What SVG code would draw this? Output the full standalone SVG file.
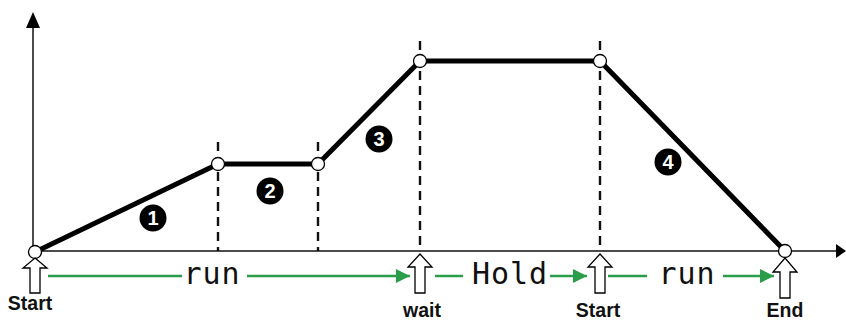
<svg xmlns="http://www.w3.org/2000/svg" width="846" height="320" viewBox="0 0 846 320">
<style>
.axis{stroke:#111;stroke-width:1.5;fill:none}
.dash{stroke:#111;stroke-width:2.4;stroke-dasharray:9 6;fill:none}
.seg{stroke:#000;stroke-width:5;fill:none;stroke-linecap:round}
.pt{fill:#fff;stroke:#000;stroke-width:1.3}
.badge{fill:#000}
.bnum{fill:#fff;font-family:"Liberation Sans",Arial,sans-serif;font-weight:bold;font-size:20px;text-anchor:middle}
.green{stroke:#2a9d4a;stroke-width:2.5;fill:none}
.hollow{fill:#fff;stroke:#000;stroke-width:1.3}
.lbl{font-family:"Liberation Sans",Arial,sans-serif;font-weight:bold;font-size:19.5px;text-anchor:middle;fill:#111}
.mono{font-family:"DejaVu Sans Mono","Liberation Mono",monospace;font-size:30px;text-anchor:middle;fill:#111;letter-spacing:1px}
</style>
<defs>
<marker id="ga" markerUnits="userSpaceOnUse" markerWidth="14" markerHeight="14" viewBox="0 0 14 14" refX="14" refY="7" orient="auto">
<path d="M0,0 L14,7 L0,14 Z" fill="#2a9d4a"/>
</marker>
</defs>
<g id="axes">
<line class="axis" x1="33" y1="251" x2="33" y2="26"/>
<path d="M33,12 L40,28 L26,28 Z" fill="#000"/>
<line class="axis" x1="33" y1="251" x2="838" y2="251"/>
<path d="M846,251 L836,244 L836,258 Z" fill="#000"/>
</g>
<g id="guides">
<line class="dash" x1="218" y1="142" x2="218" y2="251"/>
<line class="dash" x1="318" y1="142" x2="318" y2="251"/>
<line class="dash" x1="420" y1="41" x2="420" y2="251"/>
<line class="dash" x1="600" y1="41" x2="600" y2="251"/>
</g>
<g id="connectors">
<polyline class="seg" points="35,252 218,164 318,164 420,61 600,61 785,251"/>
<line class="green" x1="48" y1="276" x2="182" y2="276"/>
<line class="green" x1="247" y1="276" x2="410" y2="276" marker-end="url(#ga)"/>
<line class="green" x1="435" y1="276" x2="463" y2="276"/>
<line class="green" x1="550" y1="276" x2="587" y2="276" marker-end="url(#ga)"/>
<line class="green" x1="608" y1="276" x2="647" y2="276"/>
<line class="green" x1="723" y1="276" x2="774" y2="276" marker-end="url(#ga)"/>
</g>
<g id="p0"><circle class="pt" cx="35" cy="252" r="6.5"/></g>
<g id="p1"><circle class="pt" cx="218" cy="164" r="6.5"/></g>
<g id="p2"><circle class="pt" cx="318" cy="164" r="6.5"/></g>
<g id="p3"><circle class="pt" cx="420" cy="61" r="6.5"/></g>
<g id="p4"><circle class="pt" cx="600" cy="61" r="6.5"/></g>
<g id="p5"><circle class="pt" cx="785" cy="251" r="6.5"/></g>
<g id="b1"><circle class="badge" cx="153" cy="218" r="13.5"/><text class="bnum" x="153" y="225">1</text></g>
<g id="b2"><circle class="badge" cx="270" cy="191" r="13.5"/><text class="bnum" x="270" y="198">2</text></g>
<g id="b3"><circle class="badge" cx="379" cy="139" r="13.5"/><text class="bnum" x="379" y="146">3</text></g>
<g id="b4"><circle class="badge" cx="668" cy="162" r="13.5"/><text class="bnum" x="668" y="169">4</text></g>
<g id="start1">
<path class="hollow" d="M35,258 L47,268 L40,268 L40,293 L30,293 L30,268 L23,268 Z"/>
<text class="lbl" x="30" y="310">Start</text>
</g>
<g id="wait">
<path class="hollow" d="M420,254 L432,267 L425,267 L425,293 L415,293 L415,267 L408,267 Z"/>
<text class="lbl" x="422" y="317">wait</text>
</g>
<g id="start2">
<path class="hollow" d="M600,254 L612,267 L605,267 L605,293 L595,293 L595,267 L588,267 Z"/>
<text class="lbl" x="598" y="317">Start</text>
</g>
<g id="end">
<path class="hollow" d="M785,258 L797,272 L790,272 L790,298 L780,298 L780,272 L773,272 Z"/>
<text class="lbl" x="785" y="317">End</text>
</g>
<g id="run1"><text class="mono" x="212" y="284">run</text></g>
<g id="hold"><text class="mono" x="510" y="284">Hold</text></g>
<g id="run2"><text class="mono" x="687" y="284">run</text></g>
</svg>
